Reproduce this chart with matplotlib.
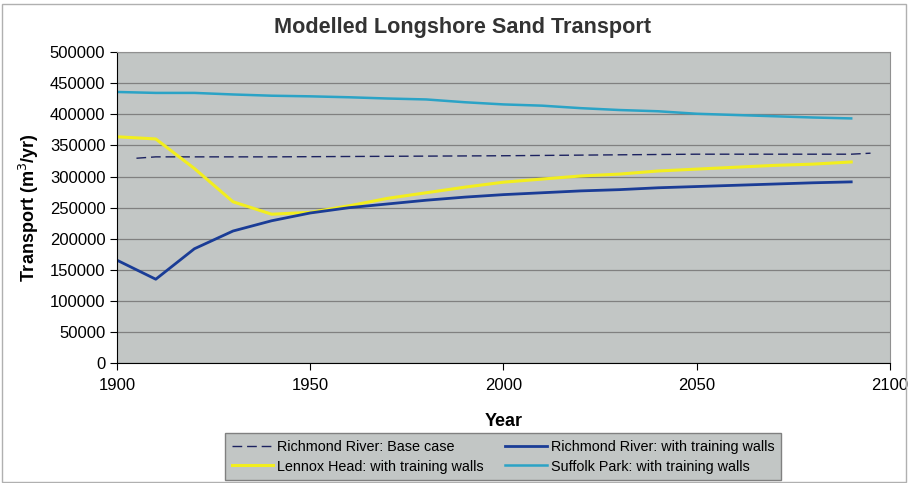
import numpy as np
from matplotlib import pyplot as plt
from matplotlib.patches import Rectangle

plt.rcParams['font.family'] = ['Liberation Sans', 'DejaVu Sans']

years = list(range(1900, 2100, 10))
base_years = [1905, 1910, 1920, 1930, 1940, 1950, 1960, 1970, 1980, 1990,
              2000, 2010, 2020, 2030, 2040, 2050, 2060, 2070, 2080, 2090, 2095]
base_case = [329500, 331700, 331700, 331700, 331700, 332000, 332300, 332600, 332900, 333200,
             333500, 334000, 334500, 335000, 335500, 336000, 336000, 336000, 336000, 336000, 337600]
richmond_walls = [165500, 135000, 184000, 212500, 229000, 241500, 250000, 256000, 262000, 267000,
                  271000, 274000, 277000, 279000, 282000, 284000, 286000, 288000, 290000, 291500]
lennox_walls = [364000, 360500, 313000, 259500, 239500, 242500, 253000, 265000, 274000, 283000,
                291000, 296000, 301000, 304000, 309000, 312000, 315000, 318000, 320000, 323500]
suffolk_walls = [436000, 434500, 434500, 432000, 430000, 429000, 427500, 425500, 424000, 419500,
                 416000, 414000, 410000, 407000, 405000, 401000, 399000, 397000, 395000, 393500]

fig = plt.figure(figsize=(9.08, 4.83), dpi=100)
ax = fig.add_axes([0.129, 0.248, 0.851, 0.644])
ax.set_facecolor('#c2c6c5')

ax.plot(base_years, base_case, color='#1c2260', lw=1.0, ls=(0, (7, 3.5)), label='Richmond River: Base case')
ax.plot(years, lennox_walls, color='#f2ee1e', lw=2.2, label='Lennox Head: with training walls')
ax.plot(years, richmond_walls, color='#1a3c96', lw=2.0, label='Richmond River: with training walls')
ax.plot(years, suffolk_walls, color='#2ba3c6', lw=1.8, label='Suffolk Park: with training walls')

ax.set_xlim(1900, 2100)
ax.set_ylim(0, 500000)
ax.set_xticks([1900, 1950, 2000, 2050, 2100])
ax.set_yticks(np.arange(0, 500001, 50000))
ax.grid(axis='y', color='#808080', lw=0.9)
ax.set_axisbelow(True)
ax.tick_params(direction='out', length=5, labelsize=12, colors='black')
ax.tick_params(axis='x', pad=6)
for s in ['top', 'right']:
    ax.spines[s].set_color('#909090')
for s in ['left', 'bottom']:
    ax.spines[s].set_color('black')

fig.text(0.509, 0.944, 'Modelled Longshore Sand Transport', fontsize=15.6, fontweight='bold',
         color='#333333', ha='center', va='center')
ax.set_xlabel('Year', fontsize=13, fontweight='bold', labelpad=14)
ax.set_ylabel('Transport (m$^3$/yr)', fontsize=13, fontweight='bold', labelpad=6)

fig.legend(loc='lower left', bbox_to_anchor=(225 / 908, 3 / 483), ncol=2,
           fontsize=10.4, frameon=True, facecolor='#c2c6c5', edgecolor='#808080', fancybox=False,
           framealpha=1, handlelength=2.9, handletextpad=0.25, borderaxespad=0,
           labelspacing=0.4, columnspacing=1.5, borderpad=0.45)

# thin outer border of the chart
fig.patches.append(Rectangle((0.002, 0.002), 0.996, 0.99, transform=fig.transFigure,
                             fill=False, edgecolor='#b0b0b0', lw=1))

fig.savefig('out.png', dpi=100)
